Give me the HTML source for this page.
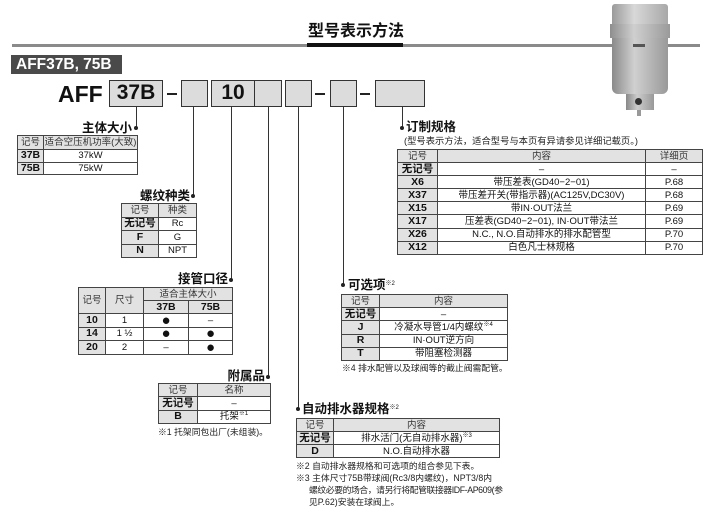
<!DOCTYPE html>
<html><head><meta charset="utf-8">
<style>
*{margin:0;padding:0;box-sizing:border-box}
body{width:705px;height:511px;background:#fff;position:relative;overflow:hidden;font-family:"Liberation Sans","Noto Sans CJK SC",sans-serif;color:#111}
.a{position:absolute;white-space:nowrap}
.box{position:absolute;background:#dcdcdc;border:1.5px solid #333;top:80px;height:27px;font-weight:bold;font-size:21px;text-align:center;line-height:24px}
.dash{position:absolute;top:93px;height:2px;width:10px;background:#222}
.v{position:absolute;width:1.5px;background:#333}
.dot{position:absolute;width:4px;height:4px;border-radius:50%;background:#222}
.lbl{position:absolute;font-weight:bold;font-size:12.5px;white-space:nowrap;line-height:14px}
table{position:absolute;border-collapse:collapse;border:1.5px solid #333;font-size:9.5px;table-layout:fixed}
td{border:1px solid #444;text-align:center;padding:0;line-height:11px;white-space:nowrap;overflow:hidden}
.h td{background:#e2e2e2;color:#333}
td.k{background:#e2e2e2;font-weight:bold;font-size:10.5px}
td.b{font-size:15px;line-height:11px}
.note{position:absolute;font-size:8.8px;white-space:nowrap;line-height:12px;color:#222}
sup{font-size:6px;vertical-align:4px;line-height:0}
</style></head><body>

<!-- header -->
<div class="a" style="left:12px;top:44px;width:688px;height:2.5px;background:#8a8a8a"></div>
<div class="a" style="left:307px;top:43px;width:96px;height:4px;background:#111"></div>
<div class="a" style="left:308px;top:22px;font-size:16px;font-weight:bold;line-height:20px">型号表示方法</div>
<div class="a" style="left:11px;top:55px;width:111px;height:19px;background:#4a4a4a;color:#fff;font-weight:bold;font-size:15.5px;line-height:19px;padding-left:5px">AFF37B, 75B</div>

<!-- product -->
<div class="a" style="left:612px;top:4px;width:56px;height:22px;background:linear-gradient(90deg,#9a9a9a,#d8d8d8 40%,#a8a8a8);border-radius:3px 3px 0 0"></div>
<div class="a" style="left:610px;top:24px;width:60px;height:14px;background:linear-gradient(90deg,#8e8e8e,#cfcfcf 40%,#9a9a9a)"></div>
<div class="a" style="left:612px;top:38px;width:56px;height:56px;background:linear-gradient(90deg,#8a8a8a,#d0d0d0 40%,#999);border-radius:0 0 6px 6px"></div>
<div class="a" style="left:633px;top:44px;width:12px;height:3px;background:#555"></div>
<div class="a" style="left:626px;top:94px;width:28px;height:16px;background:linear-gradient(90deg,#888,#ccc 40%,#999)"></div>
<div class="a" style="left:635px;top:98px;width:7px;height:7px;border-radius:50%;background:#333"></div>
<div class="a" style="left:637px;top:110px;width:4px;height:6px;background:#999"></div>

<!-- model code -->
<div class="a" style="left:58px;top:81px;font-size:23px;font-weight:bold;line-height:26px">AFF</div>
<div class="box" style="left:109px;width:54px">37B</div>
<div class="dash" style="left:167px"></div>
<div class="box" style="left:181px;width:27px"></div>
<div class="box" style="left:211px;width:44px">10</div>
<div class="box" style="left:254px;width:28px"></div>
<div class="box" style="left:285px;width:27px"></div>
<div class="dash" style="left:315px"></div>
<div class="box" style="left:330px;width:27px"></div>
<div class="dash" style="left:360px"></div>
<div class="box" style="left:375px;width:50px"></div>

<!-- connectors -->
<div class="v" style="left:135.5px;top:107px;height:21px"></div><div class="dot" style="left:134px;top:126px"></div>
<div class="v" style="left:192.5px;top:107px;height:89px"></div><div class="dot" style="left:191px;top:194px"></div>
<div class="v" style="left:230.5px;top:107px;height:173px"></div><div class="dot" style="left:229px;top:278px"></div>
<div class="v" style="left:267.5px;top:107px;height:270px"></div><div class="dot" style="left:266px;top:375px"></div>
<div class="v" style="left:297.5px;top:107px;height:302px"></div><div class="dot" style="left:296px;top:407px"></div>
<div class="v" style="left:342.5px;top:107px;height:178px"></div><div class="dot" style="left:341px;top:283px"></div>
<div class="v" style="left:401.5px;top:107px;height:21px"></div><div class="dot" style="left:400px;top:126px"></div>

<!-- 主体大小 -->
<div class="lbl" style="right:573px;top:121px">主体大小</div>
<table style="left:17px;top:135px;width:121px">
<col style="width:26px"><col>
<tr class="h" style="height:14px"><td>记号</td><td>适合空压机功率(大致)</td></tr>
<tr style="height:12.5px"><td class="k">37B</td><td>37kW</td></tr>
<tr style="height:12.5px"><td class="k">75B</td><td>75kW</td></tr>
</table>

<!-- 螺纹种类 -->
<div class="lbl" style="right:515px;top:189px">螺纹种类</div>
<table style="left:121px;top:203px;width:76px">
<col style="width:37px"><col>
<tr class="h" style="height:13.5px"><td>记号</td><td>种类</td></tr>
<tr style="height:13.5px"><td class="k">无记号</td><td>Rc</td></tr>
<tr style="height:13.5px"><td class="k">F</td><td>G</td></tr>
<tr style="height:13.5px"><td class="k">N</td><td>NPT</td></tr>
</table>

<!-- 接管口径 -->
<div class="lbl" style="right:477px;top:272px">接管口径</div>
<table style="left:78px;top:287px;width:155px">
<col style="width:27px"><col style="width:38px"><col style="width:45px"><col>
<tr class="h" style="height:13px"><td rowspan="2">记号</td><td rowspan="2">尺寸</td><td colspan="2">适合主体大小</td></tr>
<tr class="h" style="height:13px"><td style="font-weight:bold;color:#111;font-size:10.5px">37B</td><td style="font-weight:bold;color:#111;font-size:10.5px">75B</td></tr>
<tr style="height:13.5px"><td class="k">10</td><td>1</td><td class="b">●</td><td>–</td></tr>
<tr style="height:13.5px"><td class="k">14</td><td>1 ½</td><td class="b">●</td><td class="b">●</td></tr>
<tr style="height:13.5px"><td class="k">20</td><td>2</td><td>–</td><td class="b">●</td></tr>
</table>

<!-- 附属品 -->
<div class="lbl" style="right:440px;top:369px">附属品</div>
<table style="left:158px;top:383px;width:113px">
<col style="width:39px"><col>
<tr class="h" style="height:13.3px"><td>记号</td><td>名称</td></tr>
<tr style="height:13.3px"><td class="k">无记号</td><td>–</td></tr>
<tr style="height:13.3px"><td class="k">B</td><td>托架<sup>※1</sup></td></tr>
</table>
<div class="note" style="left:158px;top:426px">※1 托架同包出厂(未组装)。</div>

<!-- 可选项 -->
<div class="lbl" style="left:348px;top:278px">可选项<sup style="font-weight:normal">※2</sup></div>
<table style="left:341px;top:294px;width:167px">
<col style="width:38px"><col>
<tr class="h" style="height:13.2px"><td>记号</td><td>内容</td></tr>
<tr style="height:13.2px"><td class="k">无记号</td><td>–</td></tr>
<tr style="height:13.2px"><td class="k">J</td><td>冷凝水导管1/4内螺纹<sup>※4</sup></td></tr>
<tr style="height:13.2px"><td class="k">R</td><td>IN·OUT逆方向</td></tr>
<tr style="height:13.2px"><td class="k">T</td><td>带阻塞检测器</td></tr>
</table>
<div class="note" style="left:342px;top:362px">※4 排水配管以及球阀等的截止阀需配管。</div>

<!-- 自动排水器规格 -->
<div class="lbl" style="left:302px;top:402px">自动排水器规格<sup style="font-weight:normal">※2</sup></div>
<table style="left:296px;top:418px;width:204px">
<col style="width:37px"><col>
<tr class="h" style="height:13px"><td>记号</td><td>内容</td></tr>
<tr style="height:13px"><td class="k">无记号</td><td>排水活门(无自动排水器)<sup>※3</sup></td></tr>
<tr style="height:13px"><td class="k">D</td><td>N.O.自动排水器</td></tr>
</table>
<div class="note" style="left:296px;top:460px">※2 自动排水器规格和可选项的组合参见下表。</div>
<div class="note" style="left:296px;top:472px">※3 主体尺寸75B带球阀(Rc3/8内螺纹)，NPT3/8内</div>
<div class="note" style="left:309px;top:484px;letter-spacing:-0.4px">螺纹必要的场合，请另行将配管联接器IDF-AP609(参</div>
<div class="note" style="left:309px;top:496px">见P.62)安装在球阀上。</div>

<!-- 订制规格 -->
<div class="lbl" style="left:406px;top:120px">订制规格</div>
<div class="note" style="left:404px;top:135px;font-size:9.3px">(型号表示方法，适合型号与本页有异请参见详细记载页。)</div>
<table style="left:397px;top:149px;width:306px">
<col style="width:40px"><col style="width:208px"><col>
<tr class="h" style="height:13.1px"><td>记号</td><td>内容</td><td>详细页</td></tr>
<tr style="height:13.1px"><td class="k">无记号</td><td>–</td><td>–</td></tr>
<tr style="height:13.1px"><td class="k">X6</td><td>带压差表(GD40−2−01)</td><td>P.68</td></tr>
<tr style="height:13.1px"><td class="k">X37</td><td>带压差开关(带指示器)(AC125V,DC30V)</td><td>P.68</td></tr>
<tr style="height:13.1px"><td class="k">X15</td><td>带IN·OUT法兰</td><td>P.69</td></tr>
<tr style="height:13.1px"><td class="k">X17</td><td>压差表(GD40−2−01), IN·OUT带法兰</td><td>P.69</td></tr>
<tr style="height:13.1px"><td class="k">X26</td><td>N.C., N.O.自动排水的排水配管型</td><td>P.70</td></tr>
<tr style="height:13.1px"><td class="k">X12</td><td>白色凡士林规格</td><td>P.70</td></tr>
</table>

</body></html>
